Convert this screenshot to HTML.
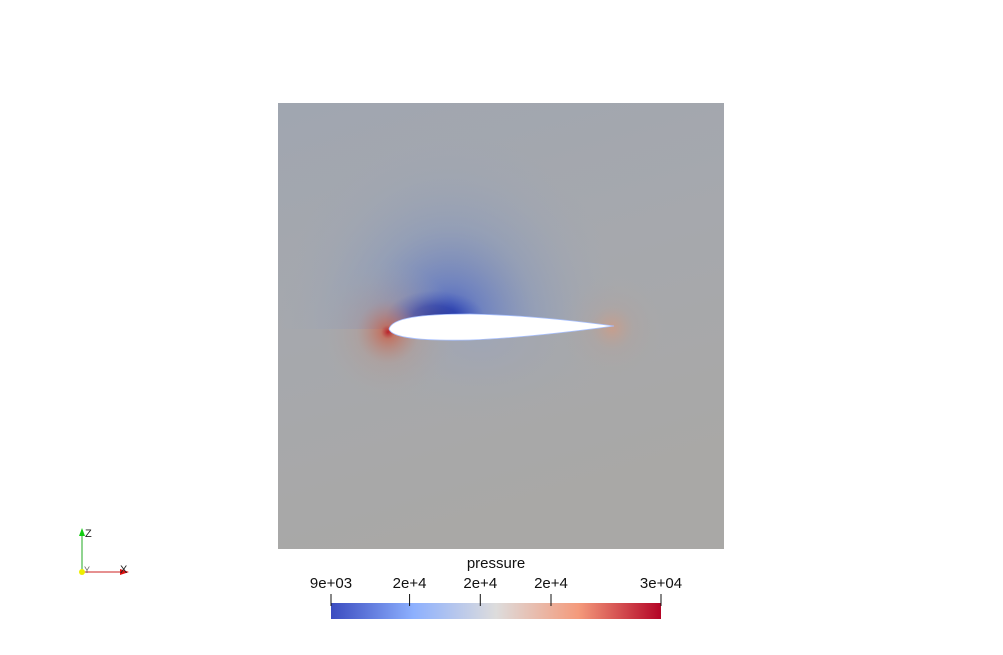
<!DOCTYPE html>
<html><head><meta charset="utf-8"><style>
html,body{margin:0;padding:0;background:#fff;}
svg{display:block;font-family:"Liberation Sans",sans-serif;}
</style></head><body>
<svg id="chart" width="1003" height="655" viewBox="0 0 1003 655">
<defs>
  <linearGradient id="bg" x1="0" y1="0" x2="0.3" y2="1">
    <stop offset="0" stop-color="#a0a6b0"/>
    <stop offset="0.5" stop-color="#a6a8ad"/>
    <stop offset="1" stop-color="#a9a8a6"/>
  </linearGradient>
  <clipPath id="upper"><rect x="278" y="103" width="446" height="226"/></clipPath>
  <radialGradient id="low" cx="450" cy="320" r="170" gradientUnits="userSpaceOnUse" gradientTransform="translate(450 320) scale(1 1.1) translate(-450 -320)">
    <stop offset="0" stop-color="#3a52c0" stop-opacity="0.9"/>
    <stop offset="0.2" stop-color="#5a74c6" stop-opacity="0.7"/>
    <stop offset="0.5" stop-color="#7c92c2" stop-opacity="0.4"/>
    <stop offset="0.8" stop-color="#93a1bc" stop-opacity="0.15"/>
    <stop offset="1" stop-color="#9aa4b8" stop-opacity="0"/>
  </radialGradient>
  <radialGradient id="core" cx="435" cy="318" r="50" gradientUnits="userSpaceOnUse" gradientTransform="translate(435 318) scale(1 0.55) translate(-435 -318)">
    <stop offset="0" stop-color="#1f2f9c"/>
    <stop offset="0.45" stop-color="#2c40ae" stop-opacity="0.9"/>
    <stop offset="1" stop-color="#4a62c0" stop-opacity="0"/>
  </radialGradient>
  <radialGradient id="below" cx="480" cy="340" r="110" gradientUnits="userSpaceOnUse" gradientTransform="translate(480 340) scale(1.3 0.8) translate(-480 -340)">
    <stop offset="0" stop-color="#9aa4bc" stop-opacity="0.6"/>
    <stop offset="1" stop-color="#a8a8aa" stop-opacity="0"/>
  </radialGradient>
  <radialGradient id="le" cx="388" cy="332" r="70" gradientUnits="userSpaceOnUse">
    <stop offset="0" stop-color="#b8222a"/>
    <stop offset="0.1" stop-color="#c9664f" stop-opacity="0.75"/>
    <stop offset="0.45" stop-color="#b99488" stop-opacity="0.3"/>
    <stop offset="1" stop-color="#a9a8a6" stop-opacity="0"/>
  </radialGradient>
  <radialGradient id="te" cx="612" cy="328" r="55" gradientUnits="userSpaceOnUse">
    <stop offset="0" stop-color="#d59a80" stop-opacity="0.7"/>
    <stop offset="0.4" stop-color="#b9a096" stop-opacity="0.25"/>
    <stop offset="1" stop-color="#a9a8a6" stop-opacity="0"/>
  </radialGradient>
  <linearGradient id="cmap" x1="0" y1="0" x2="1" y2="0">
    <stop offset="0" stop-color="#3b4cc0"/>
    <stop offset="0.25" stop-color="#8db0fe"/>
    <stop offset="0.5" stop-color="#dddcdc"/>
    <stop offset="0.75" stop-color="#f49a7b"/>
    <stop offset="1" stop-color="#b40426"/>
  </linearGradient>
</defs>
<g>
  <rect x="278" y="103" width="446" height="446" fill="url(#bg)"/>
  <rect x="278" y="103" width="446" height="446" fill="url(#below)"/>
  <g clip-path="url(#upper)">
    <rect x="278" y="103" width="446" height="446" fill="url(#low)"/>
    <rect x="278" y="103" width="446" height="446" fill="url(#core)"/>
  </g>
  <rect x="278" y="103" width="446" height="446" fill="url(#le)"/>
  <rect x="278" y="103" width="446" height="446" fill="url(#te)"/>
  <path d="M389,329 C392,318 420,314 470,314 C520,315 570,320 614,326 C570,332 520,338 470,340 C420,341 392,338 389,329 Z" fill="#fff" stroke="#a8c0ff" stroke-width="0.8"/>
</g>
<g id="colorbar">
  <text x="496" y="568" font-size="15" text-anchor="middle" fill="#111">pressure</text>
  <rect x="331" y="603" width="330" height="16" fill="url(#cmap)"/>
</g>
<g>
  <line x1="82" y1="572" x2="82" y2="533" stroke="#2a2" stroke-width="1"/>
  <polygon points="79,536 85,536 82,528" fill="#1c1"/>
  <line x1="82" y1="572" x2="122" y2="572" stroke="#c22" stroke-width="1"/>
  <polygon points="120,569 120,575 129,572" fill="#d11"/>
  <circle cx="82" cy="572" r="3" fill="#ee0"/>
  <text x="85" y="537" font-size="11" fill="#222">Z</text>
  <text x="120" y="573" font-size="11" fill="#222">X</text>
  <text x="84" y="573" font-size="9" fill="#666">Y</text>
</g>
<script>
const tickValues = [9000, 14000, 18500, 23000, 30000];
const tickLabels = ["9e+03", "2e+4", "2e+4", "2e+4", "3e+04"];
const vMin = 9000, vMax = 30000;
const x0 = 331, x1 = 661;
function sx(v){ return x0 + (v - vMin) / (vMax - vMin) * (x1 - x0); }
const cb = document.getElementById('colorbar');
const NS = 'http://www.w3.org/2000/svg';
tickValues.forEach((v, i) => {
  const x = sx(v);
  const l = document.createElementNS(NS, 'line');
  l.setAttribute('x1', x); l.setAttribute('x2', x);
  l.setAttribute('y1', 594); l.setAttribute('y2', 606);
  l.setAttribute('stroke', '#111'); l.setAttribute('stroke-width', '1');
  
  
  cb.appendChild(l);
  const t = document.createElementNS(NS, 'text');
  t.setAttribute('x', x); t.setAttribute('y', 588);
  t.setAttribute('font-size', '15'); t.setAttribute('text-anchor', 'middle');
  t.setAttribute('fill', '#111');
  t.textContent = tickLabels[i];
  
  
  cb.appendChild(t);
});
</script>
</svg>
</body></html>
